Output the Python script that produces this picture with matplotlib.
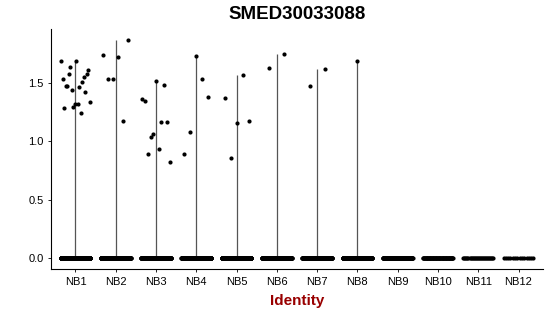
import numpy as np
import matplotlib
matplotlib.use('Agg')
import matplotlib.pyplot as plt

plt.rcParams['font.family'] = ['Liberation Sans', 'DejaVu Sans']

# data, nonzero values listed left to right within each group
groups = ['NB1', 'NB2', 'NB3', 'NB4', 'NB5', 'NB6', 'NB7', 'NB8', 'NB9', 'NB10', 'NB11', 'NB12']
nonzero = {
    'NB1': [1.682, 1.531, 1.284, 1.473, 1.473, 1.574, 1.631, 1.440, 1.292, 1.320,
            1.682, 1.320, 1.460, 1.238, 1.506, 1.546, 1.418, 1.571, 1.611, 1.337],
    'NB2': [1.733, 1.534, 1.534, 1.716, 1.175, 1.867],
    'NB3': [1.360, 1.340, 0.891, 1.039, 1.059, 1.511, 0.936, 1.167, 1.477, 1.167, 0.817],
    'NB4': [0.891, 1.079, 1.730, 1.534, 1.375],
    'NB5': [1.372, 0.859, 1.158, 1.563, 1.170],
    'NB6': [1.622, 1.742],
    'NB7': [1.471, 1.619],
    'NB8': [1.685],
    'NB9': [], 'NB10': [], 'NB11': [], 'NB12': [],
}
zero_counts = [500, 450, 400, 380, 350, 300, 250, 220, 150, 70, 30, 14]

fig = plt.figure(figsize=(5.5, 3.16), dpi=100)
ax = fig.add_axes([0.0933, 0.1487, 0.8934, 0.7605])

half = 0.37
ymax = max(max(v) for v in nonzero.values() if v)
for i, g in enumerate(groups):
    pos = i + 1
    vals = nonzero[g]
    # violin collapses to a thin line from 0 up to the group max
    if vals:
        ax.vlines(pos, 0, max(vals), color='#555555', lw=0.9, zorder=1)
    n0 = zero_counts[i]
    ax.scatter(pos + np.linspace(-half, half, n0), np.zeros(n0),
               s=9, color='black', lw=0, zorder=2)
    n = len(vals)
    if n:
        w = half * (n - 1) / n if n > 1 else 0
        ax.scatter(pos + np.linspace(-w, w, n) if n > 1 else [pos], vals,
                   s=9, color='black', lw=0, zorder=3)

ax.set_xlim(0.4, 12.6)
ax.set_ylim(-0.05 * ymax, 1.05 * ymax)
ax.set_xticks(range(1, len(groups) + 1))
ax.set_xticklabels(groups)
ax.set_yticks([0, 0.5, 1.0, 1.5])
ax.set_yticklabels(['0.0', '0.5', '1.0', '1.5'])
ax.tick_params(labelsize=8, length=2.5, width=0.6, pad=3, colors='black')
for side in ['top', 'right']:
    ax.spines[side].set_visible(False)
for side in ['left', 'bottom']:
    ax.spines[side].set_linewidth(0.8)

ax.set_title('SMED30033088', fontsize=13.5, fontweight='bold', pad=6.8)
fig.text(0.54, 0.0348, 'Identity', fontsize=11, fontweight='bold',
         color='#990000', ha='center', va='baseline')

fig.savefig('out.png', dpi=100)
